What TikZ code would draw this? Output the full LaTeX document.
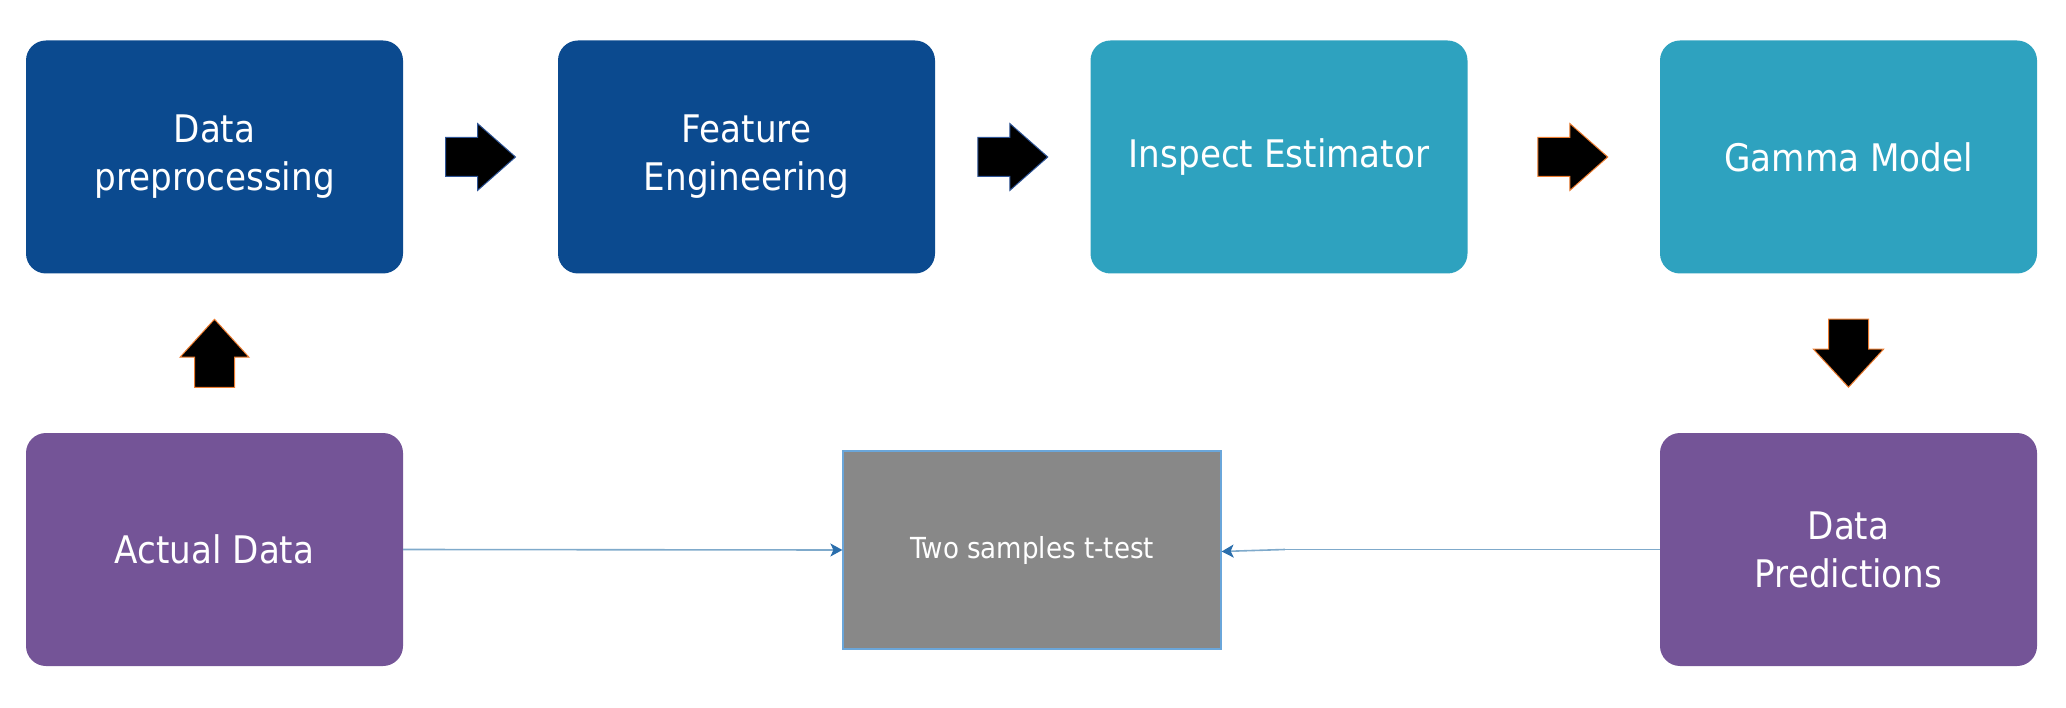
\documentclass[tikz,border=0pt]{standalone}
\usepackage{fontspec}
\setmainfont{DejaVu Sans}[FakeStretch=0.9]
\usetikzlibrary{arrows.meta,calc}
\definecolor{darkblue}{HTML}{0B4A8F}
\definecolor{tealc}{HTML}{2EA2BF}
\definecolor{purplec}{HTML}{745497}
\definecolor{greyc}{HTML}{888888}
\definecolor{linec}{HTML}{7FAACB}
\definecolor{tipc}{HTML}{2A6EAC}
\definecolor{bordc}{HTML}{6AA6DA}
\definecolor{orangec}{HTML}{ED7D31}
\definecolor{navyc}{HTML}{2F5597}
\tikzset{
  box/.style={rounded corners=20pt, minimum width=377pt, minimum height=233pt,
    inner sep=0pt, align=center, text=white, font=\fontsize{38}{48}\selectfont},
  testbox/.style={fill=greyc, draw=bordc, line width=1.2pt, minimum width=378pt,
    minimum height=198pt, inner sep=0pt, text=white, font=\fontsize{29}{36}\selectfont},
  link/.style={draw=linec, line width=1.6pt,
    -{Stealth[length=12pt, width=13pt, inset=3pt, color=tipc]}},
  rarrow/.pic={\draw[line width=1pt, fill=black, draw=#1]
    (-35,-19.5) -- (-3,-19.5) -- (-3,-33.5) -- (35,0) -- (-3,33.5) -- (-3,19.5) -- (-35,19.5) -- cycle;},
  uarrow/.pic={\draw[line width=1pt, fill=black, draw=#1]
    (-20,34) -- (-20,4) -- (-34.5,4) -- (0,-34) -- (34.5,4) -- (20,4) -- (20,34) -- cycle;},
  darrow/.pic={\draw[line width=1pt, fill=black, draw=#1]
    (-20,-34) -- (20,-34) -- (20,-4) -- (35,-4) -- (0,34) -- (-35,-4) -- (-20,-4) -- cycle;}
}
\begin{document}
\begin{tikzpicture}[x=1pt,y=-1pt]
\useasboundingbox (0,0) rectangle (2066,708);
\node[box, fill=darkblue] (pre) at (214.5,157) {Data\\preprocessing};
\node[box, fill=darkblue] (fe) at (746.5,157) {Feature\\Engineering};
\node[box, fill=tealc] (ie) at (1279,157) {Inspect Estimator};
\node[box, fill=tealc] (gm) at (1848.5,157) {Gamma Model};
\node[box, fill=purplec] (ad) at (214.5,549.5) {Actual Data};
\node[box, fill=purplec] (dp) at (1848.5,549.5) {Data\\Predictions};
\node[testbox] (tt) at (1032,550) {Two samples t-test};

\pic at ($(pre.east)!0.5!(fe.west)$) {rarrow=navyc};
\pic at ($(fe.east)!0.5!(ie.west)$) {rarrow=navyc};
\pic at ($(ie.east)!0.5!(gm.west)+(9,0)$) {rarrow=orangec};
\pic at ($(ad.north)!0.5!(pre.south)$) {uarrow=orangec};
\pic at ($(gm.south)!0.5!(dp.north)$) {darrow=orangec};

\coordinate (bend) at ($(dp.west)+(-375,0)$);
\draw[link] (ad.east) -- (tt.west);
\draw[draw=linec, line width=1.6pt] (dp.west) -- (bend);
\draw[link] (bend) -- ($(tt.east)+(0,1.5)$);
\end{tikzpicture}
\end{document}
